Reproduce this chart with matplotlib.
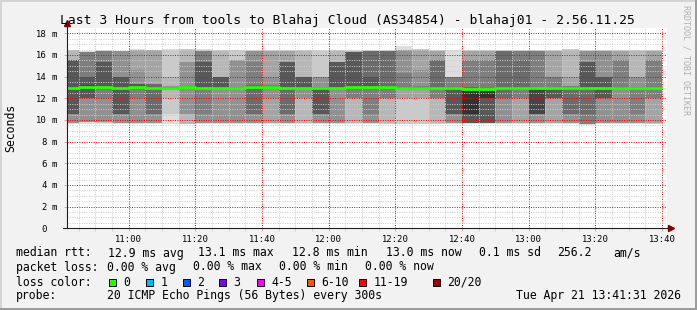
import numpy as np
import matplotlib
matplotlib.use("Agg")
import matplotlib.pyplot as plt
from matplotlib import transforms
from matplotlib.patches import Rectangle

plt.rcParams["lines.scale_dashes"] = False

# ---- data ----
title = "Last 3 Hours from tools to Blahaj Cloud (AS34854) - blahaj01 - 2.56.11.25"
view_start = "10:41:31"
view_end = "13:41:31"
first_slot = "10:40"
slot_len = 5  # minutes per smokeping step (300 s)

# 20 sorted ping rtts (ms) per 5 minute slot
pings = [
    [9.6, 9.7, 9.7, 9.7, 9.7, 10.6, 10.6, 10.6, 12.9, 12.95, 13.0, 13.05, 15.5, 15.5, 15.5, 15.5, 15.5, 16.5, 16.5, 16.5],
    [9.6, 9.8, 9.8, 9.8, 9.8, 12.0, 12.0, 12.0, 12.9, 13.05, 13.1, 13.2, 14.0, 14.0, 16.3, 16.3, 16.3, 16.3, 16.3, 16.35],
    [9.6, 9.75, 9.8, 9.8, 9.8, 12.0, 12.9, 12.9, 12.95, 13.0, 13.1, 13.15, 15.4, 15.4, 16.4, 16.4, 16.4, 16.4, 16.4, 16.45],
    [9.6, 9.7, 9.7, 9.7, 9.7, 10.6, 10.6, 10.6, 12.9, 12.95, 13.0, 13.05, 14.0, 14.0, 14.0, 16.35, 16.35, 16.35, 16.35, 16.4],
    [9.6, 9.7, 9.7, 9.7, 9.7, 12.0, 12.95, 12.95, 13.0, 13.05, 13.1, 13.15, 13.3, 13.3, 13.3, 14.6, 16.45, 16.5, 16.5, 16.55],
    [9.6, 9.7, 9.7, 9.7, 9.7, 10.6, 10.6, 12.9, 12.93, 12.96, 13.0, 13.03, 13.06, 13.35, 13.35, 13.35, 16.45, 16.45, 16.45, 16.5],
    [9.6, 10.6, 12.0, 12.9, 12.92, 12.94, 12.95, 12.96, 12.97, 12.98, 13.0, 13.02, 13.04, 13.06, 13.08, 13.1, 13.12, 14.0, 16.45, 16.6],
    [9.6, 9.6, 9.6, 10.6, 10.6, 12.95, 12.97, 13.0, 13.02, 13.05, 13.08, 13.1, 13.12, 13.14, 13.16, 15.4, 15.4, 16.5, 16.55, 16.6],
    [9.6, 9.7, 9.7, 9.7, 9.7, 10.6, 12.9, 12.9, 12.93, 12.96, 13.0, 13.03, 15.4, 15.4, 16.35, 16.35, 16.35, 16.4, 16.45, 16.6],
    [9.6, 9.75, 9.75, 9.75, 9.75, 12.9, 12.9, 12.9, 12.93, 12.96, 13.0, 13.03, 14.0, 14.0, 14.0, 14.0, 14.0, 16.4, 16.45, 16.5],
    [9.6, 9.7, 9.7, 9.7, 9.7, 12.9, 12.9, 12.92, 12.94, 12.96, 12.98, 13.0, 13.02, 13.04, 13.06, 15.5, 15.5, 15.5, 16.45, 16.5],
    [9.6, 9.7, 9.7, 9.7, 9.7, 10.6, 10.6, 13.0, 13.03, 13.06, 13.1, 13.13, 13.16, 13.2, 15.4, 16.4, 16.4, 16.4, 16.45, 16.5],
    [9.6, 9.7, 9.7, 9.7, 12.0, 12.95, 12.98, 13.0, 13.03, 13.06, 13.09, 13.12, 13.15, 13.18, 13.2, 14.0, 16.4, 16.4, 16.45, 16.5],
    [9.6, 9.7, 9.7, 9.7, 9.7, 10.6, 10.6, 12.9, 12.92, 12.95, 12.98, 13.0, 15.4, 15.4, 15.4, 15.4, 16.4, 16.4, 16.45, 16.5],
    [9.6, 9.7, 9.7, 12.0, 12.0, 12.9, 12.9, 12.9, 12.93, 12.96, 13.0, 13.03, 14.0, 14.0, 14.0, 14.0, 14.0, 16.4, 16.45, 16.5],
    [9.6, 9.7, 9.7, 9.7, 9.7, 10.6, 10.6, 10.6, 12.95, 12.97, 13.0, 13.02, 13.04, 13.06, 13.08, 14.0, 14.0, 14.0, 16.4, 16.5],
    [9.6, 9.7, 9.7, 9.7, 9.7, 12.9, 12.9, 12.9, 12.93, 12.96, 13.0, 13.03, 15.4, 15.4, 15.4, 15.4, 15.4, 16.4, 16.45, 16.5],
    [9.6, 9.7, 9.7, 12.0, 12.0, 12.0, 12.95, 12.95, 13.0, 13.03, 13.06, 13.09, 16.3, 16.3, 16.3, 16.3, 16.3, 16.35, 16.4, 16.45],
    [9.6, 9.7, 9.7, 9.7, 9.7, 10.6, 12.95, 12.95, 13.0, 13.03, 13.06, 13.1, 14.0, 16.35, 16.35, 16.35, 16.35, 16.4, 16.45, 16.5],
    [9.6, 9.65, 9.7, 12.0, 12.0, 12.0, 13.0, 13.02, 13.04, 13.06, 13.08, 13.1, 13.12, 16.35, 16.35, 16.35, 16.35, 16.4, 16.45, 16.5],
    [9.6, 9.65, 12.0, 12.0, 12.9, 12.92, 12.94, 12.96, 12.98, 13.0, 13.02, 13.04, 13.06, 13.08, 14.3, 16.47, 16.47, 16.47, 16.47, 16.8],
    [9.6, 9.65, 12.0, 12.0, 12.95, 12.96, 12.97, 12.98, 12.99, 13.0, 13.02, 13.04, 13.06, 13.08, 13.1, 14.6, 16.5, 16.5, 16.55, 16.6],
    [9.6, 9.65, 9.7, 12.0, 12.0, 12.0, 12.95, 12.97, 12.99, 13.0, 13.02, 13.04, 13.06, 15.5, 15.5, 15.5, 16.4, 16.4, 16.45, 16.5],
    [9.6, 9.7, 9.7, 9.7, 9.7, 10.6, 10.6, 10.6, 12.95, 12.97, 13.0, 13.02, 13.04, 13.06, 14.0, 14.0, 14.0, 14.0, 14.0, 16.5],
    [9.6, 9.7, 9.7, 9.7, 9.7, 9.7, 9.7, 9.7, 10.6, 10.6, 12.95, 12.98, 13.0, 13.02, 15.5, 15.5, 16.4, 16.4, 16.45, 16.5],
    [9.6, 9.7, 9.7, 9.7, 9.7, 9.7, 9.7, 9.7, 12.0, 12.0, 12.9, 12.93, 12.96, 13.0, 15.5, 15.5, 16.4, 16.4, 16.45, 16.5],
    [9.6, 9.7, 9.7, 9.7, 9.7, 12.0, 12.0, 12.95, 12.97, 13.0, 13.02, 13.04, 13.06, 16.35, 16.35, 16.35, 16.4, 16.4, 16.45, 16.5],
    [9.6, 9.7, 9.7, 9.7, 12.0, 12.0, 12.9, 12.92, 12.95, 12.98, 13.0, 13.02, 13.04, 15.5, 16.35, 16.35, 16.4, 16.4, 16.45, 16.5],
    [9.6, 9.7, 9.7, 9.7, 9.7, 10.6, 10.6, 10.6, 10.6, 12.9, 12.95, 12.97, 13.0, 13.02, 16.35, 16.35, 16.4, 16.4, 16.45, 16.5],
    [9.6, 9.7, 9.7, 9.7, 12.0, 12.0, 12.0, 12.0, 12.9, 12.93, 12.96, 13.0, 13.02, 13.04, 14.0, 14.0, 16.4, 16.4, 16.45, 16.5],
    [9.6, 9.7, 9.7, 9.7, 9.7, 10.6, 10.6, 12.95, 12.97, 13.0, 13.02, 13.04, 13.06, 13.08, 13.1, 13.1, 14.0, 16.5, 16.55, 16.6],
    [9.5, 9.6, 9.6, 9.6, 9.6, 9.6, 10.6, 12.9, 12.93, 12.96, 13.0, 13.02, 15.4, 15.4, 15.4, 16.4, 16.4, 16.4, 16.45, 16.5],
    [9.6, 9.7, 9.7, 9.7, 9.7, 12.0, 12.0, 12.0, 12.95, 12.97, 13.0, 13.02, 14.0, 14.0, 14.0, 16.4, 16.4, 16.4, 16.45, 16.5],
    [9.6, 9.7, 9.7, 9.7, 9.7, 12.95, 12.95, 12.97, 12.98, 13.0, 13.02, 13.04, 13.06, 13.08, 15.5, 15.5, 16.4, 16.4, 16.45, 16.5],
    [9.6, 9.7, 9.7, 9.7, 9.7, 10.6, 12.95, 12.96, 12.97, 12.98, 13.0, 13.02, 13.04, 13.06, 13.08, 14.0, 14.0, 16.4, 16.45, 16.5],
    [9.6, 9.65, 9.7, 9.7, 12.0, 12.0, 12.95, 12.96, 12.97, 12.98, 13.0, 13.02, 13.04, 13.06, 15.5, 15.5, 16.4, 16.4, 16.45, 16.5],
]

median = [12.97, 13.06, 13.06, 12.97, 13.06, 12.97, 12.97, 13.06, 12.97,
          12.97, 12.95, 13.06, 13.06, 12.97, 12.97, 12.97, 12.97, 13.06,
          13.06, 13.06, 12.97, 12.97, 12.97, 12.97, 12.88, 12.88, 12.97,
          12.97, 12.97, 12.97, 12.97, 12.97, 12.97, 12.97, 12.97, 12.97]
loss = [0] * 36

x_tick_labels = ["11:00", "11:20", "11:40", "12:00", "12:20", "12:40", "13:00", "13:20", "13:40"]
y_tick_values = [0, 2, 4, 6, 8, 10, 12, 14, 16, 18]
y_top = 18.47

rtt_label = "median rtt:"
rtt_stats = ["12.9 ms avg", "13.1 ms max", "12.8 ms min", "13.0 ms now", "0.1 ms sd", "256.2", "am/s"]
loss_label = "packet loss:"
loss_stats = ["0.00 % avg", "0.00 % max", "0.00 % min", "0.00 % now"]
color_label = "loss color:"
loss_names = ["0", "1", "2", "3", "4-5", "6-10", "11-19", "20/20"]
loss_colors = ["#26ff00", "#00b8ff", "#0059ff", "#7e00ff", "#ff00ff", "#ff5500", "#ff0000", "#a00000"]
probe_label = "probe:"
probe_text = "20 ICMP Echo Pings (56 Bytes) every 300s"
stamp = "Tue Apr 21 13:41:31 2026"
watermark = "RRDTOOL / TOBI OETIKER"


def hm(s):
    p = [int(v) for v in s.split(":")]
    return p[0] * 60 + p[1] + (p[2] / 60.0 if len(p) > 2 else 0.0)


# ---- layout (pixels of the 697x310 picture) ----
W, H = 697, 310
PX0, PX1 = 67, 667          # plot left / right
PY0, PY1 = 228.3, 28.3      # plot bottom / top
MONO = "DejaVu Sans Mono"
BG = "#f2f2f2"


def fx(px):
    return px / W


def fy(py):
    return 1 - py / H


fig = plt.figure(figsize=(W / 100, H / 100), dpi=100, facecolor=BG)
ax = fig.add_axes([fx(PX0), fy(PY0), (PX1 - PX0) / W, (PY0 - PY1) / H])
ax.set_facecolor("white")
ax.set_xlim(hm(view_start), hm(view_end))
ax.set_ylim(0, y_top)
for s in ax.spines.values():
    s.set_visible(False)

# smoke: nested bands of the sorted pings, darker towards the middle
P = np.array(pings)
starts = hm(first_slot) + slot_len * np.arange(len(P))
half = P.shape[1] // 2
for i in range(1, half + 1):
    g = int(190 / half * (half - i)) + 50
    lo = P[:, i - 1]
    hi = P[:, -i]
    ax.bar(starts, hi - lo, bottom=lo, width=slot_len, align="edge",
           color="#%02x%02x%02x" % (g, g, g), linewidth=0, antialiased=False, zorder=1)

# median line
edges = np.append(starts, starts[-1] + slot_len)
ax.step(edges, np.append(median, median[-1]), where="post",
        color=loss_colors[loss[0]], lw=2.0, zorder=3, solid_capstyle="butt")

# grid
ax.set_xticks([hm(t) for t in x_tick_labels])
ax.set_xticks(np.arange(hm("10:45"), hm(view_end), 5), minor=True)
ax.set_yticks(y_tick_values)
ax.set_yticks(np.arange(0, y_top, 0.5), minor=True)
ax.set_axisbelow(False)
ax.grid(which="major", color=(1, 0, 0, 0.28), linestyle=(0, (0.72, 1.0)), linewidth=0.72)
ax.grid(which="minor", color=(0.8, 0.8, 0.8, 0.6), linestyle=(0, (0.72, 1.0)), linewidth=0.72)
ax.tick_params(labelbottom=False, labelleft=False)
ax.tick_params(axis="x", which="major", length=2.5, width=0.7, color=(1, 0, 0, 0.35), direction="out")
ax.tick_params(axis="x", which="minor", length=2, width=0.7, color=(0.7, 0.7, 0.7, 0.5), direction="out")
ax.tick_params(axis="y", which="major", length=2.5, width=0.7, color=(1, 0, 0, 0.35), direction="out")
ax.tick_params(axis="y", which="minor", length=0)


# axis lines with arrows
def afx(px):
    return (px - PX0) / (PX1 - PX0)


def afy(py):
    return (PY0 - py) / (PY0 - PY1)


ax.plot([afx(63), afx(669)], [0, 0], transform=ax.transAxes, color="#202020",
        lw=0.8, clip_on=False, zorder=5)
ax.plot([0, 0], [0, afy(25)], transform=ax.transAxes, color="#202020",
        lw=0.8, clip_on=False, zorder=5)
ax.plot([afx(671)], [0], marker=">", ms=4, color="#7f0000", transform=ax.transAxes,
        clip_on=False, zorder=6)
ax.plot([0], [afy(23)], marker="^", ms=4, color="#7f0000", transform=ax.transAxes,
        clip_on=False, zorder=6)

# tick labels
xt = transforms.blended_transform_factory(ax.transData, fig.transFigure)
for t in x_tick_labels:
    ax.text(hm(t), fy(242.5), t, transform=xt, ha="center", va="baseline",
            fontsize=6.4, family=MONO, clip_on=False)
yt = transforms.offset_copy(transforms.blended_transform_factory(fig.transFigure, ax.transData),
                            fig=fig, y=-3.2, units="dots")
for v in y_tick_values:
    ax.text(fx(46.7), v, str(v), transform=yt, ha="right", va="baseline",
            fontsize=6.4, family=MONO, clip_on=False)
    if v != 0:
        ax.text(fx(52.0), v, "m", transform=yt, ha="left", va="baseline",
                fontsize=6.4, family=MONO, clip_on=False)

# title, unit, watermark
fig.text(fx(347), fy(24), title, ha="center", va="baseline", fontsize=9.4, family=MONO)
fig.text(fx(11), fy(128), "Seconds", rotation=90, ha="center", va="center", fontsize=8.3, family=MONO)
fig.text(fx(686), fy(60), watermark, rotation=270, ha="center", va="center",
         fontsize=6, family=MONO, color="#b0b0b0")

# legend rows
LX = 15.8
FS = 8.3
row_y = [256.5, 270.5, 285.5, 299.5]
fig.text(fx(LX), fy(row_y[0]), rtt_label, va="baseline", fontsize=FS, family=MONO)
for xpos, s in zip([107.6, 197.8, 292.4, 385.8, 479.1, 556.9, 613.3], rtt_stats):
    fig.text(fx(xpos), fy(row_y[0]), s, va="baseline", fontsize=FS, family=MONO)

fig.text(fx(LX), fy(row_y[1]), loss_label, va="baseline", fontsize=FS, family=MONO)
for xpos, s in zip([107.3, 193.3, 279.3, 365.3], loss_stats):
    fig.text(fx(xpos), fy(row_y[1]), s, va="baseline", fontsize=FS, family=MONO)

fig.text(fx(LX), fy(row_y[2]), color_label, va="baseline", fontsize=FS, family=MONO)
box_x = [109, 146, 182.7, 219, 256.7, 307, 359, 432.7]
for bx, name, col in zip(box_x, loss_names, loss_colors):
    fig.add_artist(Rectangle((fx(bx), fy(286)), 7 / W, 7.5 / H, transform=fig.transFigure,
                             facecolor=col, edgecolor="black", linewidth=0.7))
    fig.text(fx(bx + 14.3), fy(row_y[2]), name, va="baseline", fontsize=FS, family=MONO)

fig.text(fx(LX), fy(row_y[3]), probe_label, va="baseline", fontsize=FS, family=MONO)
fig.text(fx(107.3), fy(row_y[3]), probe_text, va="baseline", fontsize=FS, family=MONO)
fig.text(fx(680.5), fy(row_y[3]), stamp, ha="right", va="baseline", fontsize=FS, family=MONO)

# frame shading
fig.add_artist(Rectangle((0, 1 - 1.5 / H), 1, 1.5 / H, transform=fig.transFigure,
                         facecolor="#d4d4d4", edgecolor="none"))
fig.add_artist(Rectangle((0, 0), 1.5 / W, 1, transform=fig.transFigure,
                         facecolor="#d4d4d4", edgecolor="none"))
fig.add_artist(Rectangle((1 - 2 / W, 0), 2 / W, 1, transform=fig.transFigure,
                         facecolor="#9c9c9c", edgecolor="none"))
fig.add_artist(Rectangle((0, 0), 1, 2 / H, transform=fig.transFigure,
                         facecolor="#9c9c9c", edgecolor="none"))

fig.savefig("out.png", dpi=100, facecolor=BG)
